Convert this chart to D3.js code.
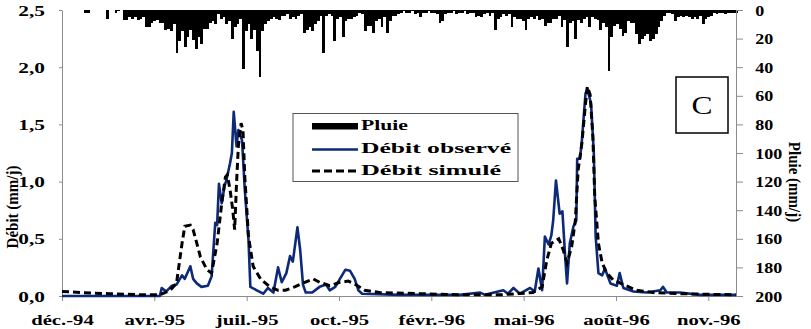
<!DOCTYPE html>
<html>
<head>
<meta charset="utf-8">
<script src="https://cdn.jsdelivr.net/npm/d3@7"></script>
<style>
  body { margin: 0; background: #fff; }
  text { font-family: "Liberation Serif", "Times New Roman", serif; }
</style>
</head>
<body>
<svg id="chart" width="811" height="329"></svg>
<script>
// ---- Data ---------------------------------------------------------------
const startDay = "1994-12-31";
const endDay = "1996-12-30";
const xTickDates = ["1994-12-31", "1995-04-10", "1995-07-19", "1995-10-27",
                    "1996-02-04", "1996-05-14", "1996-08-22", "1996-11-30"];
const debitTicks = [0, 0.5, 1.0, 1.5, 2.0, 2.5];
const pluieTicks = [0, 20, 40, 60, 80, 100, 120, 140, 160, 180, 200];

// Rain (mm/j), one value per 3-day step from startDay
const pluieStep = 3;
const pluie = [
  0,0,0,0,0,0,0,0,2,2, 0,0,0,0,0,0,6,0,0,2, 1,0,7,7,5,6,5,7,6,5,
  12,12,9,8,7,9,9,14,13,15, 10,30,22,15,26,19,14,21,27,19, 24,13,13,9,8,10,3,6,5,10,
  8,20,12,10,6,41,15,10,20,14, 29,47,15,10,8,6,5,6,7,4, 4,3,6,5,6,4,3,16,14,12,
  15,10,8,4,30,4,3,4,22,6, 5,19,8,6,6,5,4,2,3,15, 11,11,16,8,6,12,5,16,8,4,
  4,3,2,1,2,2,1,3,2,5, 2,2,1,2,2,3,9,8,3,2, 2,1,3,2,2,1,3,2,2,5,
  4,5,3,2,4,2,14,6,5,3, 4,3,12,5,6,6,8,14,6,5, 6,4,7,6,11,9,9,6,6,4,
  12,7,26,9,8,20,7,9,6,5, 12,5,6,7,14,9,12,43,19,11, 10,13,18,16,8,9,9,17,24,20,
  18,17,22,20,17,12,8,4,2,2, 3,8,5,4,5,4,5,6,5,6, 4,10,6,5,4,2,3,2,2,3,
  2,2,2,2
];

// Observed discharge (mm/j): day offset from startDay, value
const obsDays = [0,106,108,113,119,124,130,133,139,142, 146,151,158,162,166,168,170,173,176,178,
  182,184,186,189,191,195,198,202,204,211, 218,223,229,234,238,243,247,250,255,258,
  261,264,271,279,286,290,296,301,307,312, 317,321,325,366,431,453,458,478,483,489,
  496,507,512,516,520,523,527,530,532,535, 539,542,545,547,550,554,557,558,561,563,
  567,569,573,576,578,581,585,588,594,601, 604,608,619,633,648,651,655,669,691,730];
const obsValues = [0,0,0.07,0.04,0.09,0.10,0.18,0.15,0.26,0.15, 0.11,0.08,0.09,0.17,0.64,0.62,0.98,0.81,0.96,1.01,
  1.16,1.25,1.61,1.31,1.45,1.36,0.93,0.49,0.08,0.05, 0.02,0.07,0.03,0.25,0.12,0.20,0.35,0.30,0.60,0.40,
  0.10,0.03,0.03,0.08,0.10,0.05,0.08,0.15,0.23,0.22, 0.15,0.05,0.02,0.01,0.01,0.03,0.01,0.05,0.02,0.07,
  0.02,0.07,0.04,0.24,0.05,0.52,0.45,0.53,0.66,1.01, 0.72,0.74,0.34,0.11,0.46,0.61,0.66,1.20,1.20,1.35,
  1.77,1.81,1.68,1.25,0.52,0.20,0.18,0.24,0.11,0.09, 0.20,0.07,0.04,0.03,0.05,0.08,0.03,0.03,0.01,0.01];

// Simulated discharge (mm/j)
const simDays = [0,20,52,88,106,117,124,130,133,139, 142,150,157,162,168,173,177,179,182,185,
  187,189,191,194,196,198,202,207,215,225, 234,242,252,263,272,279,290,301,310,318,
  328,344,388,431,474,510,520,525,530,538, 543,547,552,556,559,563,567,569,572,575,
  577,581,585,590,597,608,622,640,669,730];
const simValues = [0.04,0.03,0.02,0.01,0.01,0.05,0.11,0.46,0.61,0.62, 0.58,0.34,0.23,0.20,0.46,0.81,1.04,1.06,0.93,0.75,
  0.58,0.98,1.31,1.51,1.45,1.04,0.52,0.26,0.15,0.08, 0.05,0.05,0.08,0.12,0.15,0.12,0.09,0.12,0.13,0.10,
  0.05,0.03,0.02,0.01,0.01,0.03,0.08,0.31,0.46,0.50, 0.40,0.29,0.43,0.66,1.10,1.33,1.68,1.83,1.76,1.39,
  0.87,0.46,0.29,0.20,0.14,0.10,0.05,0.03,0.02,0.01];

const legendLabels = ["Pluie", "Débit observé", "Débit simulé"];
const panelLabel = "C";

// ---- Setup --------------------------------------------------------------
const fr = d3.timeFormatLocale({
  dateTime: "%A %e %B %Y à %X", date: "%d/%m/%Y", time: "%H:%M:%S",
  periods: ["AM", "PM"],
  days: ["dimanche","lundi","mardi","mercredi","jeudi","vendredi","samedi"],
  shortDays: ["dim.","lun.","mar.","mer.","jeu.","ven.","sam."],
  months: ["janvier","février","mars","avril","mai","juin","juillet","août","septembre","octobre","novembre","décembre"],
  shortMonths: ["janv.","févr.","mars","avr.","mai","juin","juil.","août","sept.","oct.","nov.","déc."]
});
const frNum = d3.formatLocale({ decimal: ",", thousands: " ", grouping: [3], currency: ["", " €"] });
const parse = d3.timeParse("%Y-%m-%d");
const t0 = parse(startDay);
const dayDate = d => d3.timeDay.offset(t0, d);

const svg = d3.select("#chart");
const plotLeft = 62, plotRight = 736, plotTop = 10, plotBottom = 296;

const x = d3.scaleTime().domain([t0, parse(endDay)]).range([plotLeft, plotRight]);
const y = d3.scaleLinear().domain([0, 2.5]).range([plotBottom, plotTop]);
const yr = d3.scaleLinear().domain([0, 200]).range([plotTop, plotBottom]);

const axisGrey = "#8c8c8c";
const navy = "#0d2a78";

// ---- Rain bars hanging from the top ------------------------------------
const barW = x(dayDate(pluieStep)) - x(t0);
svg.append("g").attr("shape-rendering", "crispEdges")
  .selectAll("rect").data(pluie).join("rect")
  .attr("x", (d, i) => x(dayDate(i * pluieStep)))
  .attr("y", yr(0))
  .attr("width", barW)
  .attr("height", d => yr(d) - yr(0))
  .attr("fill", "#000");

// ---- Axes ---------------------------------------------------------------
const gx = svg.append("g").attr("transform", `translate(0,${plotBottom})`)
  .call(d3.axisBottom(x).tickValues(xTickDates.map(parse)).tickFormat(fr.format("%b-%y")).tickSize(5).tickSizeOuter(0));
gx.selectAll("text").attr("y", 18).attr("transform", "scale(1.38,1)");

const gy = svg.append("g").attr("transform", `translate(${plotLeft},0)`)
  .call(d3.axisLeft(y).tickValues(debitTicks).tickFormat(frNum.format(".1f")).tickSize(3).tickSizeOuter(0));
gy.selectAll("text").attr("x", -12).attr("dy", "0.34em").attr("transform", "scale(1.42,1)");

const gyr = svg.append("g").attr("transform", `translate(${plotRight},0)`)
  .call(d3.axisRight(yr).tickValues(pluieTicks).tickFormat(d3.format("d")).tickSize(7).tickSizeOuter(0));
gyr.selectAll("text").attr("x", 16).attr("dy", "0.34em").attr("transform", "scale(1.2,1)");

svg.selectAll(".domain, .tick line").attr("stroke", axisGrey).attr("stroke-width", 1);
svg.selectAll(".tick text")
  .attr("font-family", "'Liberation Serif', serif")
  .attr("font-size", 15).attr("font-weight", "bold").attr("fill", "#000");

// Axis titles
svg.append("text")
  .attr("transform", "translate(18,207) rotate(-90) scale(1,1.15)")
  .attr("text-anchor", "middle")
  .attr("font-size", 15).attr("font-weight", "bold")
  .text("Débit (mm/j)");
svg.append("text")
  .attr("transform", "translate(789,182) rotate(90) scale(1,1.1)")
  .attr("text-anchor", "middle")
  .attr("font-size", 15).attr("font-weight", "bold")
  .text("Pluie (mm/j)");

// ---- Discharge lines ------------------------------------------------------
const line = d3.line().x(d => x(dayDate(d[0]))).y(d => y(d[1]));
const obs = obsDays.map((d, i) => [d, obsValues[i]]);
const sim = simDays.map((d, i) => [d, simValues[i]]);

svg.append("path").datum(obs)
  .attr("d", line).attr("fill", "none")
  .attr("stroke", navy).attr("stroke-width", 2.6).attr("stroke-linejoin", "round");
svg.append("path").datum(sim)
  .attr("d", line).attr("fill", "none")
  .attr("stroke", "#000").attr("stroke-width", 3).attr("stroke-dasharray", "7,4");

// ---- Legend ---------------------------------------------------------------
const lg = svg.append("g");
lg.append("rect").attr("x", 293).attr("y", 113.5).attr("width", 225).attr("height", 68)
  .attr("fill", "#fff").attr("stroke", "#555").attr("stroke-width", 1);
lg.append("rect").attr("x", 312).attr("y", 123).attr("width", 46).attr("height", 6.5).attr("fill", "#000");
lg.append("line").attr("x1", 312).attr("x2", 358).attr("y1", 149.5).attr("y2", 149.5)
  .attr("stroke", navy).attr("stroke-width", 2.6);
lg.append("line").attr("x1", 312).attr("x2", 358).attr("y1", 171).attr("y2", 171)
  .attr("stroke", "#000").attr("stroke-width", 3).attr("stroke-dasharray", "8,4");
const legendY = [130, 152.5, 175];
const legendW = [47, 150, 140];
lg.selectAll("text.lab").data(legendLabels).join("text")
  .attr("class", "lab")
  .attr("x", 361).attr("y", (d, i) => legendY[i])
  .attr("font-size", 15).attr("font-weight", "bold")
  .attr("textLength", (d, i) => legendW[i]).attr("lengthAdjust", "spacingAndGlyphs")
  .text(d => d);

// ---- Panel label ----------------------------------------------------------
svg.append("rect").attr("x", 676).attr("y", 77).attr("width", 52).attr("height", 56)
  .attr("fill", "#fff").attr("stroke", "#000").attr("stroke-width", 1.5);
svg.append("text").attr("x", 702).attr("y", 113.5).attr("text-anchor", "middle")
  .attr("font-size", 25).attr("textLength", 21).attr("lengthAdjust", "spacingAndGlyphs")
  .text(panelLabel);
</script>
</body>
</html>
